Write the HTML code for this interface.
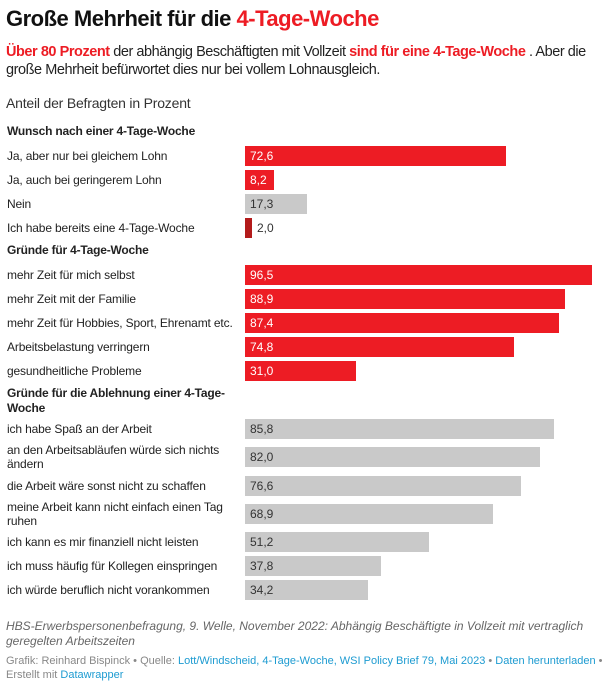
<!DOCTYPE html>
<html><head><meta charset="utf-8"><style>
body{margin:0;width:607px;height:684px;background:#fff;font-family:"Liberation Sans",Arial,sans-serif;position:relative;overflow:hidden;color:#222}
.a{position:absolute;white-space:nowrap}
.l{position:absolute;left:7px;font-size:12px;letter-spacing:-0.15px;color:#222;line-height:14px}
.h{position:absolute;left:7px;font-size:12px;font-weight:bold;color:#222;line-height:15px;letter-spacing:-0.2px}
.b{position:absolute;left:245px;height:20px}
.v{position:absolute;font-size:12px;line-height:20px}
.r{background:#ed1c24}.g{background:#c9c9c9}
</style></head><body>
<div class="a" style="left:6px;top:6px;font-size:22px;font-weight:bold;color:#111;letter-spacing:-0.5px">Große Mehrheit für die <span style="color:#ed1c24">4-Tage-Woche</span></div>
<div class="a" style="left:6px;top:43px;font-size:14.5px;line-height:18px;color:#222;letter-spacing:-0.45px">
<span style="color:#ed1c24;font-weight:bold">Über 80 Prozent</span> der abhängig Beschäftigten mit Vollzeit <span style="color:#ed1c24;font-weight:bold">sind für eine 4-Tage-Woche</span> . Aber die<br>große Mehrheit befürwortet dies nur bei vollem Lohnausgleich.</div>
<div class="a" style="left:6px;top:95px;font-size:14px;color:#333;letter-spacing:-0.2px">Anteil der Befragten in Prozent</div>

<div class="h" style="top:124px">Wunsch nach einer 4-Tage-Woche</div>
<div class="l" style="top:149px">Ja, aber nur bei gleichem Lohn</div>
<div class="b r" style="top:146px;width:261px"></div><div class="v" style="left:250px;top:146px;color:#fff">72,6</div>
<div class="l" style="top:173px">Ja, auch bei geringerem Lohn</div>
<div class="b r" style="top:170px;width:29px"></div><div class="v" style="left:250px;top:170px;color:#fff">8,2</div>
<div class="l" style="top:197px">Nein</div>
<div class="b g" style="top:194px;width:62px"></div><div class="v" style="left:250px;top:194px;color:#333">17,3</div>
<div class="l" style="top:221px">Ich habe bereits eine 4-Tage-Woche</div>
<div class="b" style="top:218px;width:7px;background:#b31b1b"></div><div class="v" style="left:257px;top:218px;color:#333">2,0</div>

<div class="h" style="top:243px">Gründe für 4-Tage-Woche</div>
<div class="l" style="top:268px">mehr Zeit für mich selbst</div>
<div class="b r" style="top:265px;width:347px"></div><div class="v" style="left:250px;top:265px;color:#fff">96,5</div>
<div class="l" style="top:292px">mehr Zeit mit der Familie</div>
<div class="b r" style="top:289px;width:320px"></div><div class="v" style="left:250px;top:289px;color:#fff">88,9</div>
<div class="l" style="top:316px">mehr Zeit für Hobbies, Sport, Ehrenamt etc.</div>
<div class="b r" style="top:313px;width:314px"></div><div class="v" style="left:250px;top:313px;color:#fff">87,4</div>
<div class="l" style="top:340px">Arbeitsbelastung verringern</div>
<div class="b r" style="top:337px;width:269px"></div><div class="v" style="left:250px;top:337px;color:#fff">74,8</div>
<div class="l" style="top:364px">gesundheitliche Probleme</div>
<div class="b r" style="top:361px;width:111px"></div><div class="v" style="left:250px;top:361px;color:#fff">31,0</div>

<div class="h" style="top:386px">Gründe für die Ablehnung einer 4-Tage-<br>Woche</div>
<div class="l" style="top:422px">ich habe Spaß an der Arbeit</div>
<div class="b g" style="top:419px;width:309px"></div><div class="v" style="left:250px;top:419px;color:#333">85,8</div>
<div class="l" style="top:443px">an den Arbeitsabläufen würde sich nichts<br>ändern</div>
<div class="b g" style="top:447px;width:295px"></div><div class="v" style="left:250px;top:447px;color:#333">82,0</div>
<div class="l" style="top:479px">die Arbeit wäre sonst nicht zu schaffen</div>
<div class="b g" style="top:476px;width:276px"></div><div class="v" style="left:250px;top:476px;color:#333">76,6</div>
<div class="l" style="top:500px">meine Arbeit kann nicht einfach einen Tag<br>ruhen</div>
<div class="b g" style="top:504px;width:248px"></div><div class="v" style="left:250px;top:504px;color:#333">68,9</div>
<div class="l" style="top:535px">ich kann es mir finanziell nicht leisten</div>
<div class="b g" style="top:532px;width:184px"></div><div class="v" style="left:250px;top:532px;color:#333">51,2</div>
<div class="l" style="top:559px">ich muss häufig für Kollegen einspringen</div>
<div class="b g" style="top:556px;width:136px"></div><div class="v" style="left:250px;top:556px;color:#333">37,8</div>
<div class="l" style="top:583px">ich würde beruflich nicht vorankommen</div>
<div class="b g" style="top:580px;width:123px"></div><div class="v" style="left:250px;top:580px;color:#333">34,2</div>

<div class="a" style="left:6px;top:619px;font-size:12px;line-height:15px;font-style:italic;color:#666">HBS-Erwerbspersonenbefragung, 9. Welle, November 2022: Abhängig Beschäftigte in Vollzeit mit vertraglich<br>geregelten Arbeitszeiten</div>
<div class="a" style="left:6px;top:654px;font-size:11px;line-height:14px;color:#888">Grafik: Reinhard Bispinck • Quelle: <span style="color:#1d9bd1">Lott/Windscheid, 4-Tage-Woche, WSI Policy Brief 79, Mai 2023</span> • <span style="color:#1d9bd1">Daten herunterladen</span> •<br>Erstellt mit <span style="color:#1d9bd1">Datawrapper</span></div>
</body></html>
